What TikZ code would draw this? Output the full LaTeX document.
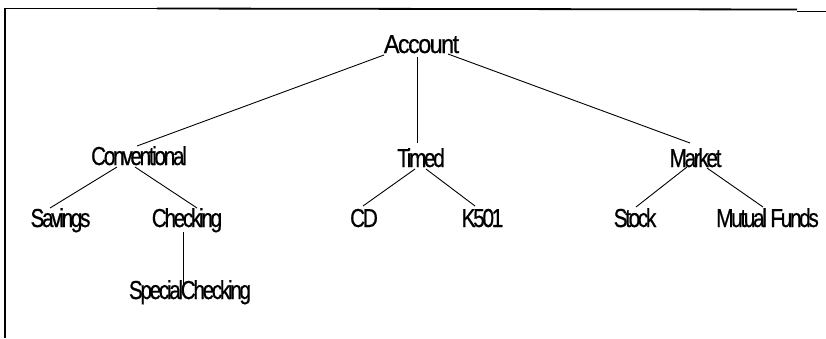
\documentclass[tikz,border=0pt]{standalone}
\usepackage{fontspec}
\newfontfamily\treefont[FakeStretch=0.8,LetterSpace=-9,FakeBold=0.6]{Liberation Sans}
\newfontfamily\rootfont[FakeStretch=0.9,LetterSpace=-6,FakeBold=0.6]{Liberation Sans}
\begin{document}
\begin{tikzpicture}[x=1pt,y=-1pt,
  label/.style={anchor=base,inner sep=0pt,font=\treefont\fontsize{26}{28}\selectfont},
  rootlabel/.style={anchor=base,inner sep=0pt,font=\rootfont\fontsize{26}{28}\selectfont},
  edge/.style={draw=black,line width=0.9pt},
  frame/.style={draw=black}]
\useasboundingbox (0,0) rectangle (826,338);

% frame lines along the top and left
\draw[frame,line width=1pt] (5,8.5) -- (157,8.5);
\draw[frame,line width=1.8pt] (157,8.5) -- (797,9.5);
\draw[frame,line width=1.5pt] (797,11.5) -- (826,11.5);
\draw[frame,line width=1.1pt] (5,8) -- (5,338);
\draw[frame,line width=1.8pt] (5,33) -- (5,158);

% tree nodes (placed on their baselines)
\node[rootlabel] (acc) at (421.5,53) {Account};
\node[label] (conv) at (139,165) {Conventional};
\node[label] (timed) at (421,167) {Timed};
\node[label] (market) at (695.5,167) {Market};
\node[label] (sav) at (60.5,227) {Savings};
\node[label] (chk) at (187,227) {Checking};
\node[label] (cd) at (364,227) {CD};
\node[label] (k501) at (482.5,227) {K501};
\node[label] (stock) at (635,227) {Stock};
\node[label] (mf) at (767.5,227) {Mutual Funds};
\node[label] (spc) at (190,299) {SpecialChecking};

% connectors
\draw[edge] ([shift={(-37.5,2)}]acc.base) -- ([shift={(-2,-19)}]conv.base);
\draw[edge] ([shift={(-4.5,4)}]acc.base) -- ([shift={(-4,-24)}]timed.base);
\draw[edge] ([shift={(26.5,1)}]acc.base) -- ([shift={(-5.5,-24)}]market.base);

\draw[edge] ([shift={(-22,2)}]conv.base) -- ([shift={(-10.5,-19)}]sav.base);
\draw[edge] ([shift={(-4,2)}]conv.base) -- ([shift={(10,-19)}]chk.base);
\draw[edge] ([shift={(-4,5)}]chk.base) -- ([shift={(-7,-15)}]spc.base);

\draw[edge] ([shift={(-6,2)}]timed.base) -- ([shift={(-1,-21)}]cd.base);
\draw[edge] ([shift={(5,2)}]timed.base) -- ([shift={(-7.5,-21)}]k501.base);

\draw[edge] ([shift={(-8.5,0)}]market.base) -- ([shift={(1,-20)}]stock.base);
\draw[edge] ([shift={(11.5,1)}]market.base) -- ([shift={(-4.5,-20)}]mf.base);
\end{tikzpicture}
\end{document}
